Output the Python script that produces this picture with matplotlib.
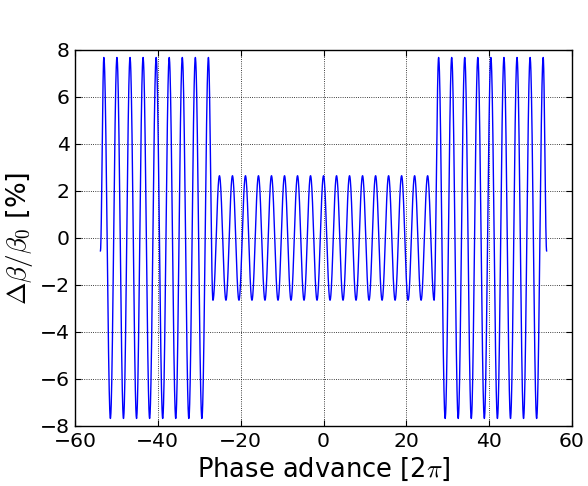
"""
Beta-beating along the lattice: relative beta deviation versus phase advance.
"""

import matplotlib

matplotlib.use("Agg")
import matplotlib.pyplot as plt
import numpy as np

# Turning points of the beta-beat oscillation (phase advance in units of 2*pi,
# relative deviation in percent), in order along the lattice.
left_outer_x = [-53.87, -53.04, -51.46, -49.88, -48.30, -46.72, -45.15, -43.57,
                -41.99, -40.41, -38.83, -37.26, -35.68, -34.10, -32.52, -30.95,
                -29.37, -27.79]
left_outer_y = [-0.55, 7.68, -7.68, 7.68, -7.68, 7.68, -7.68, 7.68,
                -7.68, 7.68, -7.68, 7.68, -7.68, 7.68, -7.68, 7.68,
                -7.68, 7.68]

inner_x = [-26.70, -25.13, -23.56, -21.99, -20.42, -18.85, -17.28, -15.71,
           -14.14, -12.57, -10.99, -9.42, -7.85, -6.28, -4.71, -3.14, -1.57,
           0.00, 1.57, 3.14, 4.71, 6.28, 7.85, 9.42, 10.99, 12.57, 14.14,
           15.71, 17.28, 18.85, 20.42, 21.99, 23.56, 25.13, 26.70]
inner_y = [-2.65, 2.65, -2.65, 2.65, -2.65, 2.65, -2.65, 2.65,
           -2.65, 2.65, -2.65, 2.65, -2.65, 2.65, -2.65, 2.65, -2.65,
           2.65, -2.65, 2.65, -2.65, 2.65, -2.65, 2.65, -2.65, 2.65, -2.65,
           2.65, -2.65, 2.65, -2.65, 2.65, -2.65, 2.65, -2.65]

right_outer_x = [27.79, 29.37, 30.95, 32.52, 34.10, 35.68, 37.26, 38.83,
                 40.41, 41.99, 43.57, 45.15, 46.72, 48.30, 49.88, 51.46,
                 53.04, 53.87]
right_outer_y = [7.68, -7.68, 7.68, -7.68, 7.68, -7.68, 7.68, -7.68,
                 7.68, -7.68, 7.68, -7.68, 7.68, -7.68, 7.68, -7.68,
                 7.68, -0.55]

x_ticks = [-60, -40, -20, 0, 20, 40, 60]
y_ticks = [-8, -6, -4, -2, 0, 2, 4, 6, 8]


def half_wave_path(xs, ys, n=40):
    """Join successive turning points with half-cosine arcs."""
    t = np.linspace(0.0, 1.0, n)
    px, py = [xs[0]], [ys[0]]
    for x0, y0, x1, y1 in zip(xs[:-1], ys[:-1], xs[1:], ys[1:]):
        px.extend(x0 + (x1 - x0) * t[1:])
        py.extend(0.5 * (y0 + y1) + 0.5 * (y0 - y1) * np.cos(np.pi * t[1:]))
    return np.array(px), np.array(py)


def main() -> None:
    plt.rcParams["mathtext.fontset"] = "cm"

    xs = left_outer_x + inner_x + right_outer_x
    ys = left_outer_y + inner_y + right_outer_y
    phase, beat = half_wave_path(xs, ys)

    fig = plt.figure(figsize=(5.88, 4.86), dpi=100)
    ax = fig.add_axes([0.1276, 0.1235, 0.8452, 0.7737])

    ax.plot(phase, beat, color="#0000ff", lw=1.0)

    ax.set_xlim(-60, 60)
    ax.set_ylim(-8, 8)
    ax.set_xticks(x_ticks)
    ax.set_yticks(y_ticks)
    ax.tick_params(direction="in", length=4, width=0.8, top=True, right=True,
                   labelsize=14.7, pad=4)
    ax.grid(True, color="black", linestyle=":", lw=0.6)
    for spine in ax.spines.values():
        spine.set_linewidth(1.0)

    ax.set_xlabel(r"Phase advance [2$\pi$]", fontsize=18.5)
    ax.set_ylabel(r"$\Delta\beta/\beta_0$ [%]", fontsize=19.5, labelpad=3)

    fig.savefig("out.png", dpi=100)


if __name__ == "__main__":
    main()
